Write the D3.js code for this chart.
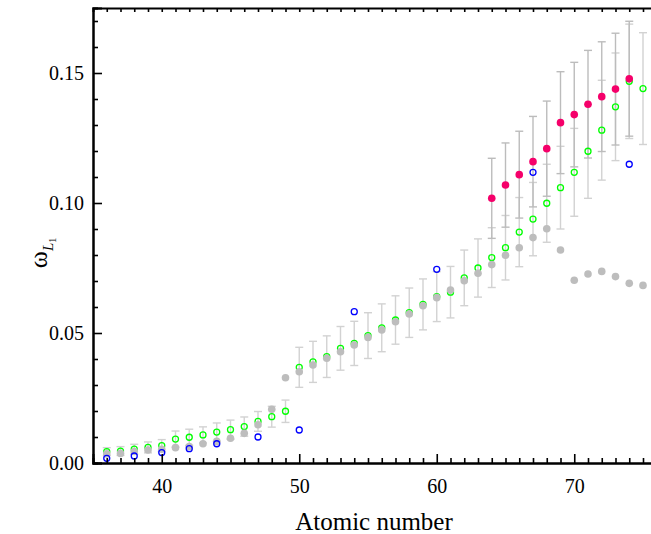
<!DOCTYPE html>
<html lang="en">
<head>
    <meta charset="UTF-8">
    <title>omega L1</title>
    <script src="https://cdn.jsdelivr.net/npm/d3@7"></script>
    <style>
        body { margin: 0; background: #fff; }
        text { font-family: "Liberation Serif", "Times New Roman", serif; fill: #000; }
    </style>
</head>
<body>
<script>

    // atomic numbers 36..75 for the grey and green series
    var z = d3.range(36, 76);
    var grey = [0.0035, 0.0037, 0.0044, 0.0050, 0.0053, 0.0059, 0.0063, 0.0074, 0.0083, 0.0095,
        0.0114, 0.0147, 0.0207, 0.0328, 0.0351, 0.0377, 0.0403, 0.0428, 0.0454, 0.0483,
        0.0512, 0.0543, 0.0573, 0.0605, 0.0636, 0.0665, 0.0701, 0.0730, 0.0763, 0.0799,
        0.0828, 0.0867, 0.0901, 0.0819, 0.0703, 0.0727, 0.0737, 0.0717, 0.0691, 0.0683];
    var green = [0.0044, 0.0046, 0.0053, 0.0060, 0.0067, 0.0092, 0.0099, 0.0108, 0.0119, 0.0128,
        0.0140, 0.0160, 0.0178, 0.0199, 0.0368, 0.0389, 0.0409, 0.0441, 0.0460, 0.0490,
        0.0520, 0.0550, 0.0578, 0.0610, 0.0640, 0.0657, 0.0712, 0.0750, 0.0790, 0.0828,
        0.0888, 0.0938, 0.0999, 0.1059, 0.1118, 0.1199, 0.1280, 0.1370, 0.1468, 0.1440];
    var greenErr = [0.0015, 0.0017, 0.0019, 0.0021, 0.0023, 0.0031, 0.0031, 0.0031, 0.0035, 0.0037,
        0.0037, 0.0038, 0.0040, 0.0043, 0.0077, 0.0079, 0.0080, 0.0084, 0.0085, 0.0088,
        0.0092, 0.0093, 0.0095, 0.0098, 0.0096, 0.0099, 0.0107, 0.0112, 0.0115, 0.0124,
        0.0133, 0.0141, 0.0150, 0.0159, 0.0169, 0.0181, 0.0192, 0.0207, 0.0220, 0.0215];

    var pinkZ = d3.range(64, 75);
    var pink = [0.1018, 0.1069, 0.1109, 0.1159, 0.1209, 0.1309, 0.1340, 0.1380, 0.1409, 0.1438, 0.1478];
    var pinkErr = [0.0154, 0.0162, 0.0167, 0.0174, 0.0183, 0.0196, 0.0201, 0.0207, 0.0211, 0.0215, 0.0221];

    var blueZ = [36, 38, 40, 42, 44, 47, 50, 54, 60, 67, 74];
    var blue = [0.0018, 0.0027, 0.0040, 0.0055, 0.0074, 0.0100, 0.0127, 0.0582, 0.0745, 0.1118, 0.1149];

    var xTicks = [40, 50, 60, 70];
    var yTicks = [0, 0.05, 0.10, 0.15];

    var W = 651, H = 534;
    var x = d3.scaleLinear().domain([35, 76]).range([93, 656.75]);
    var y = d3.scaleLinear().domain([0, 0.175]).range([463, 8]);

    var svg = d3.select("body").append("svg")
        .attr("width", W).attr("height", H);

    var gData = z.map(function(d, i) { return {z: d, v: green[i], e: greenErr[i]}; });
    var grData = z.map(function(d, i) { return {z: d, v: grey[i]}; });
    var pData = pinkZ.map(function(d, i) { return {z: d, v: pink[i], e: pinkErr[i]}; });
    var bData = blueZ.map(function(d, i) { return {z: d, v: blue[i]}; });

    function errorBars(data, colour) {
        var g = svg.append("g").attr("stroke", colour).attr("stroke-width", 1.4).attr("fill", "none");
        var bar = g.selectAll("g").data(data).enter().append("g");
        bar.append("line")
            .attr("x1", function(d) { return x(d.z); }).attr("x2", function(d) { return x(d.z); })
            .attr("y1", function(d) { return y(d.v + d.e); }).attr("y2", function(d) { return y(d.v - d.e); });
        bar.append("line")
            .attr("x1", function(d) { return x(d.z) - 4; }).attr("x2", function(d) { return x(d.z) + 4; })
            .attr("y1", function(d) { return y(d.v + d.e); }).attr("y2", function(d) { return y(d.v + d.e); });
        bar.append("line")
            .attr("x1", function(d) { return x(d.z) - 4; }).attr("x2", function(d) { return x(d.z) + 4; })
            .attr("y1", function(d) { return y(d.v - d.e); }).attr("y2", function(d) { return y(d.v - d.e); });
    }

    errorBars(gData, "#d2d2d2");
    errorBars(pData, "#bcbcbc");

    svg.append("g").selectAll("circle").data(gData).enter().append("circle")
        .attr("cx", function(d) { return x(d.z); }).attr("cy", function(d) { return y(d.v); })
        .attr("r", 3).attr("fill", "none").attr("stroke", "#00ff00").attr("stroke-width", 1.3);

    svg.append("g").selectAll("circle").data(grData).enter().append("circle")
        .attr("cx", function(d) { return x(d.z); }).attr("cy", function(d) { return y(d.v); })
        .attr("r", 3.8).attr("fill", "#bdbdbd");

    svg.append("g").selectAll("circle").data(bData).enter().append("circle")
        .attr("cx", function(d) { return x(d.z); }).attr("cy", function(d) { return y(d.v); })
        .attr("r", 3).attr("fill", "none").attr("stroke", "#0000ff").attr("stroke-width", 1.3);

    svg.append("g").selectAll("circle").data(pData).enter().append("circle")
        .attr("cx", function(d) { return x(d.z); }).attr("cy", function(d) { return y(d.v); })
        .attr("r", 3.8).attr("fill", "#f5006a");

    // axes, ticks pointing inward
    var minorX = d3.range(36, 77).filter(function(d) { return d % 10 != 0; });
    var minorY = d3.range(0.01, 0.175, 0.01).filter(function(d, i) { return (i + 1) % 5 != 0; });

    svg.append("g").attr("transform", "translate(0,463)")
        .call(d3.axisBottom(x).tickValues(minorX).tickSize(-5).tickFormat(""));
    svg.append("g").attr("transform", "translate(0,463)")
        .call(d3.axisBottom(x).tickValues(xTicks).tickSize(-9).tickPadding(16).tickFormat(d3.format("d")));

    svg.append("g").attr("transform", "translate(0,8)")
        .call(d3.axisTop(x).tickValues(d3.range(36, 77)).tickSize(-4).tickFormat(""));

    svg.append("g").attr("transform", "translate(93,0)")
        .call(d3.axisLeft(y).tickValues(minorY).tickSize(-5).tickFormat(""));
    svg.append("g").attr("transform", "translate(93,0)")
        .call(d3.axisLeft(y).tickValues(yTicks).tickSize(-9).tickPadding(9).tickFormat(d3.format(".2f")));

    svg.selectAll(".domain").attr("stroke-width", 2).attr("stroke", "#000");
    svg.selectAll(".tick line").attr("stroke-width", 1.6).attr("stroke", "#000");
    svg.selectAll(".tick text").style("font-size", "20px").style("font-family", "Liberation Serif");

    svg.append("text")
        .attr("x", 374).attr("y", 530)
        .attr("text-anchor", "middle")
        .style("font-size", "25px")
        .text("Atomic number");

    var lab = svg.append("text")
        .attr("transform", "translate(47,253) rotate(-90)")
        .attr("text-anchor", "middle");
    lab.append("tspan").style("font-size", "26px").text("ω");
    lab.append("tspan").style("font-size", "15px").style("font-style", "italic")
        .attr("dy", 6).text("L");
    lab.append("tspan").style("font-size", "10px").attr("dy", 3).text("1");

</script>
</body>
</html>
